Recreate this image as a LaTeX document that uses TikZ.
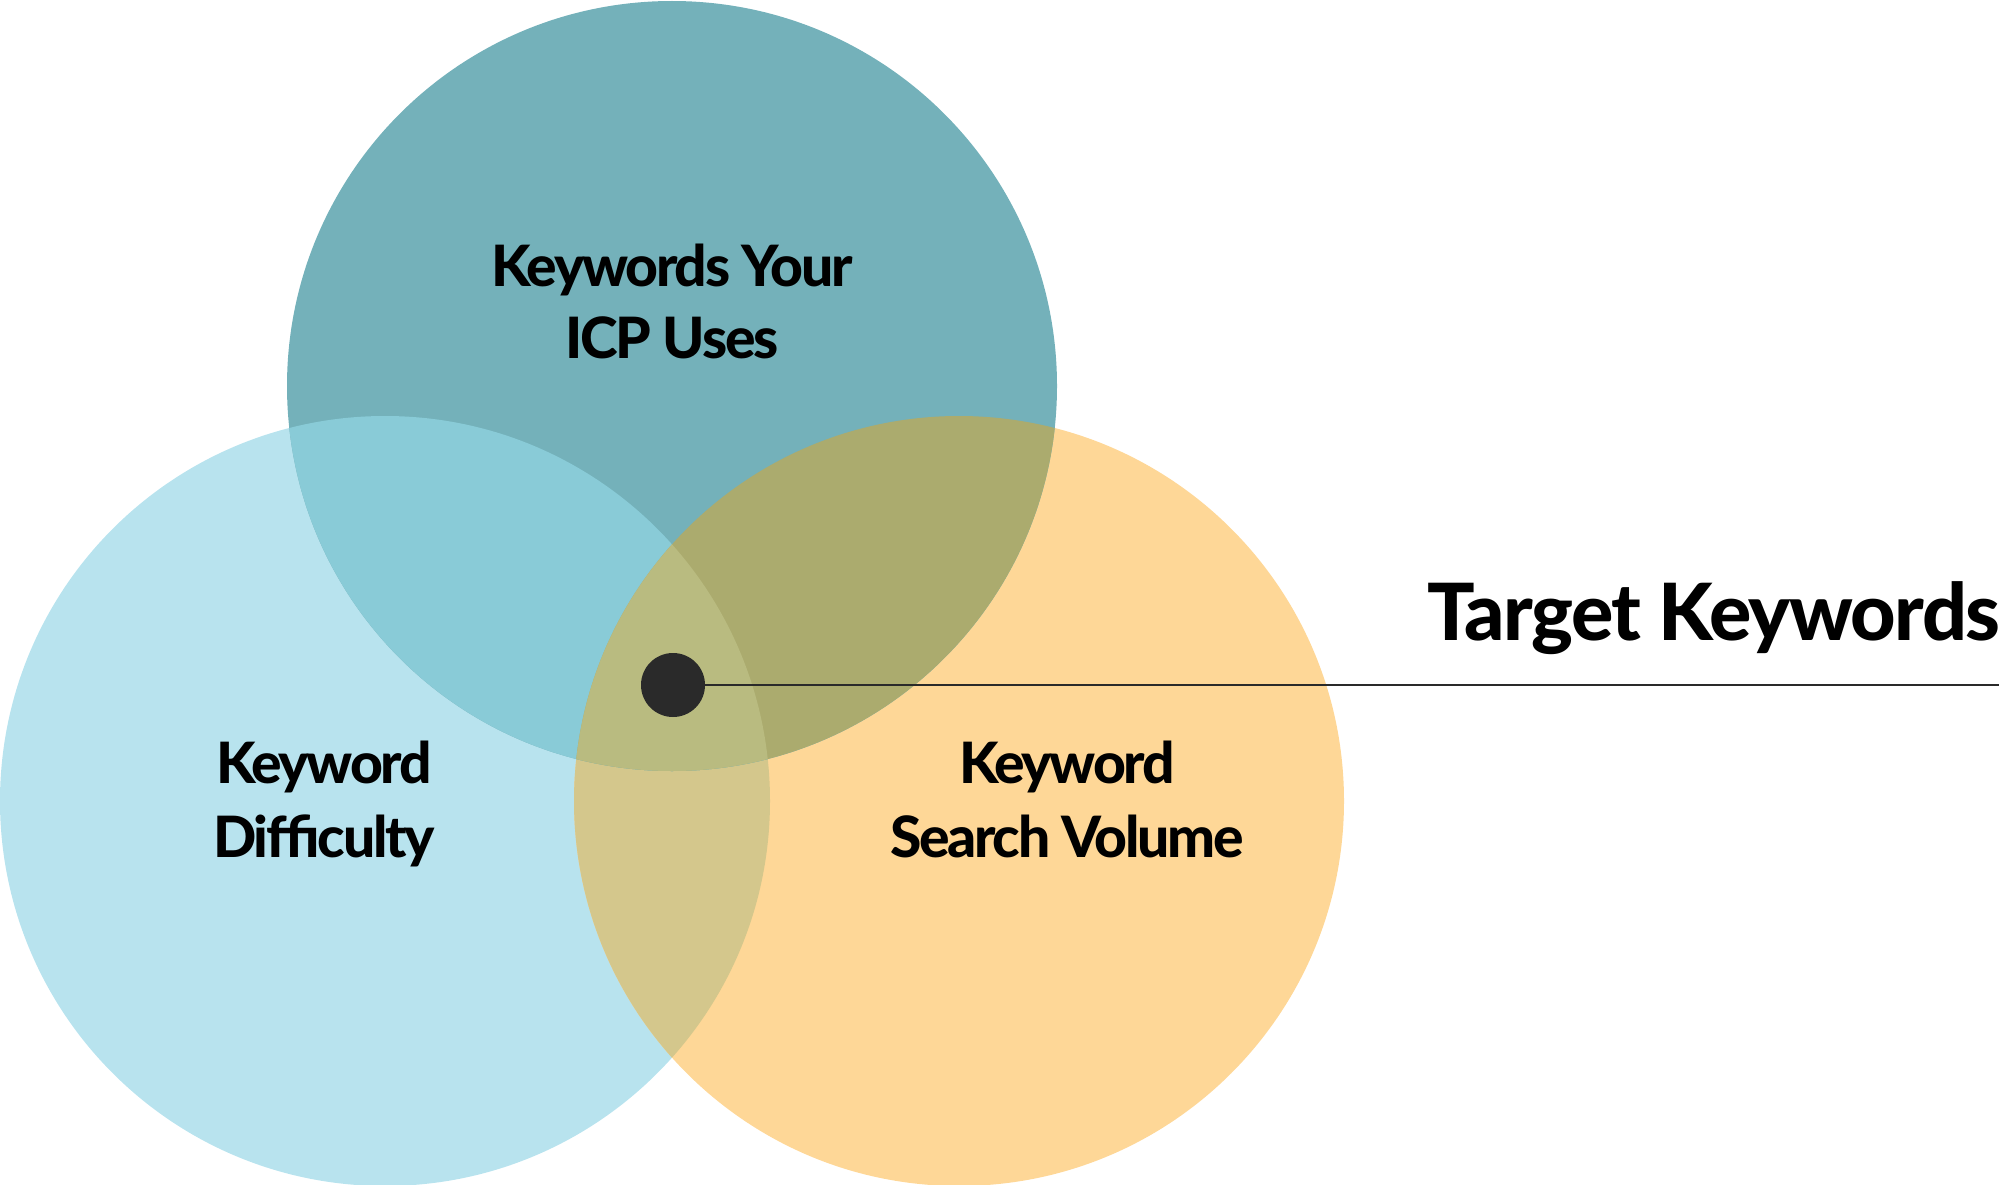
\documentclass[tikz,border=0pt]{standalone}
\usepackage{fontspec}
\setmainfont{Lato}
\newfontfamily\lbfont{Lato Heavy}[LetterSpace=-4]
\newfontfamily\tgfont{Lato Heavy}[LetterSpace=-2]
\definecolor{cTop}{HTML}{74B1BA}
\definecolor{cLeft}{HTML}{B8E3EE}
\definecolor{cRight}{HTML}{FED797}
\definecolor{cTL}{HTML}{89CBD7}
\definecolor{cTR}{HTML}{ABAB6E}
\definecolor{cLR}{HTML}{D4C78C}
\definecolor{cAll}{HTML}{B9BB80}
\definecolor{cDot}{HTML}{2A2A2A}
\tikzset{
  lbl/.style={anchor=base, inner sep=0pt, font=\lbfont\fontsize{57}{70}\selectfont, text=black},
  biglbl/.style={anchor=base west, inner sep=0pt, font=\tgfont\fontsize{79}{95}\selectfont, text=black},
  dotnode/.style={circle, fill=cDot, draw=none, minimum size=64pt, inner sep=0pt},
  leader/.style={draw=cDot, line width=2.5pt}
}
\begin{document}
\begin{tikzpicture}[x=1pt,y=-1pt]
\useasboundingbox (0,0) rectangle (1999,1185);
\def\R{385pt}
% base circles
\fill[cLeft] (385,801) circle[radius=\R];
\fill[cRight] (959,801) circle[radius=\R];
\begin{scope}
  \clip (385,801) circle[radius=\R];
  \fill[cLR] (959,801) circle[radius=\R];
\end{scope}
\fill[cTop] (672,386) circle[radius=\R];
\begin{scope}
  \clip (672,386) circle[radius=\R];
  \fill[cTL] (385,801) circle[radius=\R];
  \fill[cTR] (959,801) circle[radius=\R];
  \clip (385,801) circle[radius=\R];
  \fill[cAll] (959,801) circle[radius=\R];
\end{scope}
% labels
\node[lbl] (icpA) at (672,286) {Keywords Your};
\node[lbl] (icpB) at (672,358) {ICP Uses};
\node[lbl] (kdA) at (324,783) {Keyword};
\node[lbl] (kdB) at (324,857) {Difficulty};
\node[lbl] (svA) at (1067,783) {Keyword};
\node[lbl] (svB) at (1067,857) {Search Volume};
% target
\node[dotnode] (dot) at (673,685) {};
\coordinate (edge) at (1999,685);
\draw[leader] (dot.east) -- (edge);
\node[biglbl] (target) at (1427,640) {Target Keywords};
\end{tikzpicture}
\end{document}
